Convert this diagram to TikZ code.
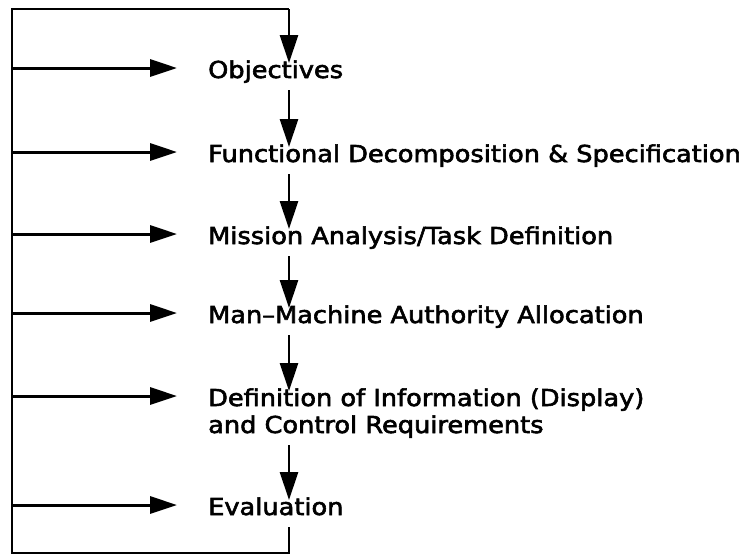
\documentclass[tikz,border=0pt]{standalone}
\usepackage{fontspec}
\setmainfont{DejaVu Sans}[FakeStretch=1.1,FakeBold=2.5]
\usetikzlibrary{arrows.meta,calc}
\begin{document}
\begin{tikzpicture}[x=1pt,y=-1pt,
  wire/.style={line width=2.6pt},
  feed/.style={line width=3pt,-{Triangle[length=27pt,width=17pt]}},
  flow/.style={line width=2.8pt,-{Triangle[length=28pt,width=18pt]}},
  label/.style={anchor=base west,inner sep=0pt,font=\fontsize{23.3}{27}\selectfont}]
  \useasboundingbox (0,0) rectangle (750,557);

  % stage labels
  \node[label] (obj)  at (208,78)  {Objectives};
  \node[label] (fun)  at (208,162) {Functional Decomposition \& Specification};
  \node[label] (mis)  at (208,244) {Mission Analysis/Task Definition};
  \node[label] (man)  at (208,323) {Man--Machine Authority Allocation};
  \node[label] (defa) at (208,406) {Definition of Information (Display)};
  \node[label] (defb) at (208,433) {and Control Requirements};
  \node[label] (eva)  at (208,515) {Evaluation};

  % feedback loop frame
  \coordinate (spine) at (289,0);
  \coordinate (tl) at (12,9);
  \coordinate (tr) at (289,9);
  \coordinate (bl) at (12,553);
  \coordinate (br) at (289,553);

  \draw[wire,line join=miter] ($(spine |- eva.base)+(0,12)$) -- (br) -- (bl) -- (tl) -- (tr);
  \draw[flow] (tr) -- ($(spine |- obj.base)+(0,-15)$);

  % forward flow between stages
  \draw[flow] ($(spine |- obj.base)+(0,12)$)  -- ($(spine |- fun.base)+(0,-15)$);
  \draw[flow] ($(spine |- fun.base)+(0,12)$)  -- ($(spine |- mis.base)+(0,-15)$);
  \draw[flow] ($(spine |- mis.base)+(0,12)$)  -- ($(spine |- man.base)+(0,-15)$);
  \draw[flow] ($(spine |- man.base)+(0,12)$)  -- ($(spine |- defa.base)+(0,-15)$);
  \draw[flow] ($(spine |- defb.base)+(0,12)$) -- ($(spine |- eva.base)+(0,-15)$);

  % feedback into each stage
  \foreach \n in {obj,fun,mis,man,defa,eva}
    \draw[feed] ($(tl |- \n.base)+(0,-10)$) -- ($(\n.base west)+(-31,-10)$);
\end{tikzpicture}
\end{document}
